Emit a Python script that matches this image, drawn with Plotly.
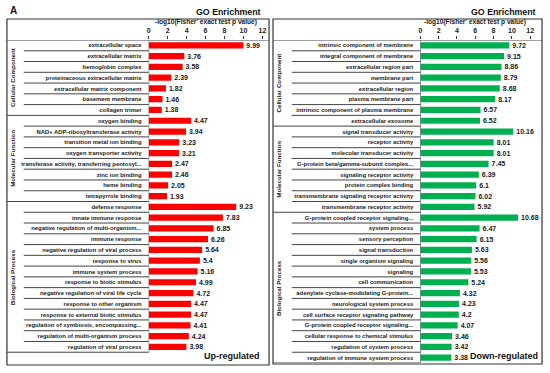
import plotly.graph_objects as go

# ---------------- data ----------------
up_cc_terms = ["extracellular space", "extracellular matrix", "hemoglobin complex",
               "proteinaceous extracellular matrix", "extracellular matrix component",
               "basement membrane", "collagen trimer"]
up_cc_vals = [9.99, 3.76, 3.58, 2.39, 1.82, 1.46, 1.38]
up_mf_terms = ["oxygen binding", "NAD+ ADP-ribosyltransferase activity", "transition metal ion binding",
               "oxygen transporter activity", "transferase activity, transferring pentosyl...",
               "zinc ion binding", "heme binding", "tetrapyrrole binding"]
up_mf_vals = [4.47, 3.94, 3.23, 3.21, 2.47, 2.46, 2.05, 1.93]
up_bp_terms = ["defense response", "innate immune response", "negative regulation of multi-organism...",
               "immune response", "negative regulation of viral process", "response to virus",
               "immune system process", "response to biotic stimulus",
               "negative regulation of viral life cycle", "response to other organism",
               "response to external biotic stimulus", "regulation of symbiosis, encompassing...",
               "regulation of multi-organism process", "regulation of viral process"]
up_bp_vals = [9.23, 7.83, 6.85, 6.26, 5.64, 5.4, 5.16, 4.99, 4.72, 4.47, 4.47, 4.41, 4.24, 3.98]

dn_cc_terms = ["intrinsic component of membrane", "integral component of membrane",
               "extracellular region part", "membrane part", "extracellular region",
               "plasma membrane part", "intrinsic component of plasma membrane", "extracellular exosome"]
dn_cc_vals = [9.72, 9.15, 8.86, 8.79, 8.68, 8.17, 6.57, 6.52]
dn_mf_terms = ["signal transducer activity", "receptor activity", "molecular transducer activity",
               "G-protein beta/gamma-subunit complex...", "signaling receptor activity",
               "protein complex binding", "transmembrane signaling receptor activity",
               "transmembrane receptor activity"]
dn_mf_vals = [10.16, 8.01, 8.01, 7.45, 6.39, 6.1, 6.02, 5.92]
dn_bp_terms = ["G-protein coupled receptor signaling...", "system process", "sensory perception",
               "signal transduction", "single organism signaling", "signaling", "cell communication",
               "adenylate cyclase-modulating G-protein...", "neurological system process",
               "cell surface receptor signaling pathway", "G-protein coupled receptor signaling...",
               "cellular response to chemical stimulus", "regulation of system process",
               "regulation of immune system process"]
dn_bp_vals = [10.68, 6.47, 6.15, 5.63, 5.56, 5.53, 5.24, 4.32, 4.23, 4.2, 4.07, 3.46, 3.42, 3.38]

group_names = ["Cellular Component", "Molecular Function", "Biological Process"]
x_ticks = [0, 2, 4, 6, 8, 10, 12]
x_title = "-log10(Fisher' exact test p value)"

# ---------------- layout helpers ----------------
W, H = 550, 373
def px(x): return x / W
def py(y): return 1 - y / H

LAB_FONT = "Liberation Sans, Arial, sans-serif"
fig = go.Figure()

panels = [
    dict(groups=[(up_cc_terms, up_cc_vals), (up_mf_terms, up_mf_vals), (up_bp_terms, up_bp_vals)],
         color="#FF0000", xa="x", ya="y", box=(5, 19, 270, 365), ax0=148.3, ax12=263.3,
         linestart=22, title_right=264, tag="Up-regulated", tag_right=263),
    dict(groups=[(dn_cc_terms, dn_cc_vals), (dn_mf_terms, dn_mf_vals), (dn_bp_terms, dn_bp_vals)],
         color="#00B050", xa="x2", ya="y2", box=(274, 19, 546, 364), ax0=423, ax12=534,
         linestart=293, title_right=542, tag="Down-regulated", tag_right=544),
]

shapes = []
annotations = []
YTOP, YBOT = 40, 363

def ann(**kw):
    d = dict(showarrow=False, xanchor="center", yanchor="middle")
    d.update(kw)
    annotations.append(d)

for p in panels:
    terms, vals, bounds = [], [], []
    for t, v in p["groups"]:
        bounds.append((len(terms), len(terms) + len(t) - 1))
        terms += t
        vals += v
    n = len(terms)
    idx = list(range(n))
    fig.add_trace(go.Bar(
        x=vals, y=idx, orientation="h", width=0.58,
        marker=dict(color=p["color"], line=dict(width=0)),
        text=[str(v) for v in vals], textposition="outside", constraintext="none",
        cliponaxis=False,
        textfont=dict(family=LAB_FONT, size=7, color="#1a1a1a", weight="bold"),
        xaxis=p["xa"], yaxis=p["ya"], showlegend=False, hoverinfo="skip"))

    xa_name = "xaxis" if p["xa"] == "x" else "xaxis2"
    ya_name = "yaxis" if p["ya"] == "y" else "yaxis2"
    fig.layout[xa_name] = dict(
        domain=[px(p["ax0"]), px(p["ax12"])], range=[0, 12], side="top",
        anchor=p["ya"], tickvals=x_ticks, ticks="outside", ticklen=3, tickcolor="#333",
        showline=False, showgrid=False, zeroline=False,
        tickfont=dict(family=LAB_FONT, size=7, color="#1a1a1a", weight="bold"))
    fig.layout[ya_name] = dict(
        domain=[py(YBOT), py(YTOP)], range=[29.5, -0.5], anchor=p["xa"],
        tickvals=idx, ticktext=terms, ticks="outside", ticklen=5,
        tickcolor="rgba(0,0,0,0)", showline=False, showgrid=False, zeroline=False,
        tickfont=dict(family=LAB_FONT, size=5.9, color="#1a1a1a", weight="bold"))

    x0b, y0b, x1b, y1b = p["box"]
    shapes.append(dict(type="rect", xref="paper", yref="paper", x0=px(x0b), x1=px(x1b),
                       y0=py(y1b), y1=py(y0b), line=dict(color="#333", width=1.2)))
    # top axis line across box
    shapes.append(dict(type="line", xref="paper", yref=p["ya"], x0=px(x0b), x1=px(x1b),
                       y0=-0.5, y1=-0.5, line=dict(color="#444", width=1)))
    # vertical category axis line
    shapes.append(dict(type="line", xref=p["xa"], yref=p["ya"], x0=0, x1=0,
                       y0=-0.5, y1=n - 0.5, line=dict(color="#444", width=1)))
    group_ends = [b[1] for b in bounds]
    for i in range(n):
        xs = px(x0b) if i in group_ends else px(p["linestart"])
        shapes.append(dict(type="line", xref="paper", yref=p["ya"], x0=xs, x1=px(p["ax0"]),
                           y0=i + 0.5, y1=i + 0.5, line=dict(color="#444", width=1)))
    for name, (a, b) in zip(group_names, bounds):
        ann(text=name, xref="paper", yref=p["ya"], x=px(x0b + 5.5), y=(a + b) / 2,
            textangle=-90, font=dict(family=LAB_FONT, size=6.2, color="#1a1a1a", weight="bold"))
    ann(text=x_title, xref="paper", yref="paper", x=px((p["ax0"] + p["ax12"]) / 2), y=py(22),
        font=dict(family=LAB_FONT, size=6.6, color="#1a1a1a", weight="bold"))
    ann(text="GO Enrichment", xref="paper", yref="paper", x=px(p["title_right"]), y=py(11.5),
        xanchor="right", font=dict(family=LAB_FONT, size=8.8, color="#111", weight="bold"))
    ann(text=p["tag"], xref="paper", yref="paper", x=px(p["tag_right"]), y=py(356),
        xanchor="right", font=dict(family=LAB_FONT, size=9, color="#111", weight="bold"))

ann(text="A", xref="paper", yref="paper", x=px(6), y=py(10), xanchor="left",
    font=dict(family=LAB_FONT, size=10, color="#111", weight="bold"))

fig.update_layout(width=W, height=H, margin=dict(l=0, r=0, t=0, b=0),
                  paper_bgcolor="white", plot_bgcolor="rgba(0,0,0,0)",
                  shapes=shapes, annotations=annotations, bargap=0.4)
fig.write_html("out.html", config={"displayModeBar": False},
               post_script="document.body.style.margin='0px';")
